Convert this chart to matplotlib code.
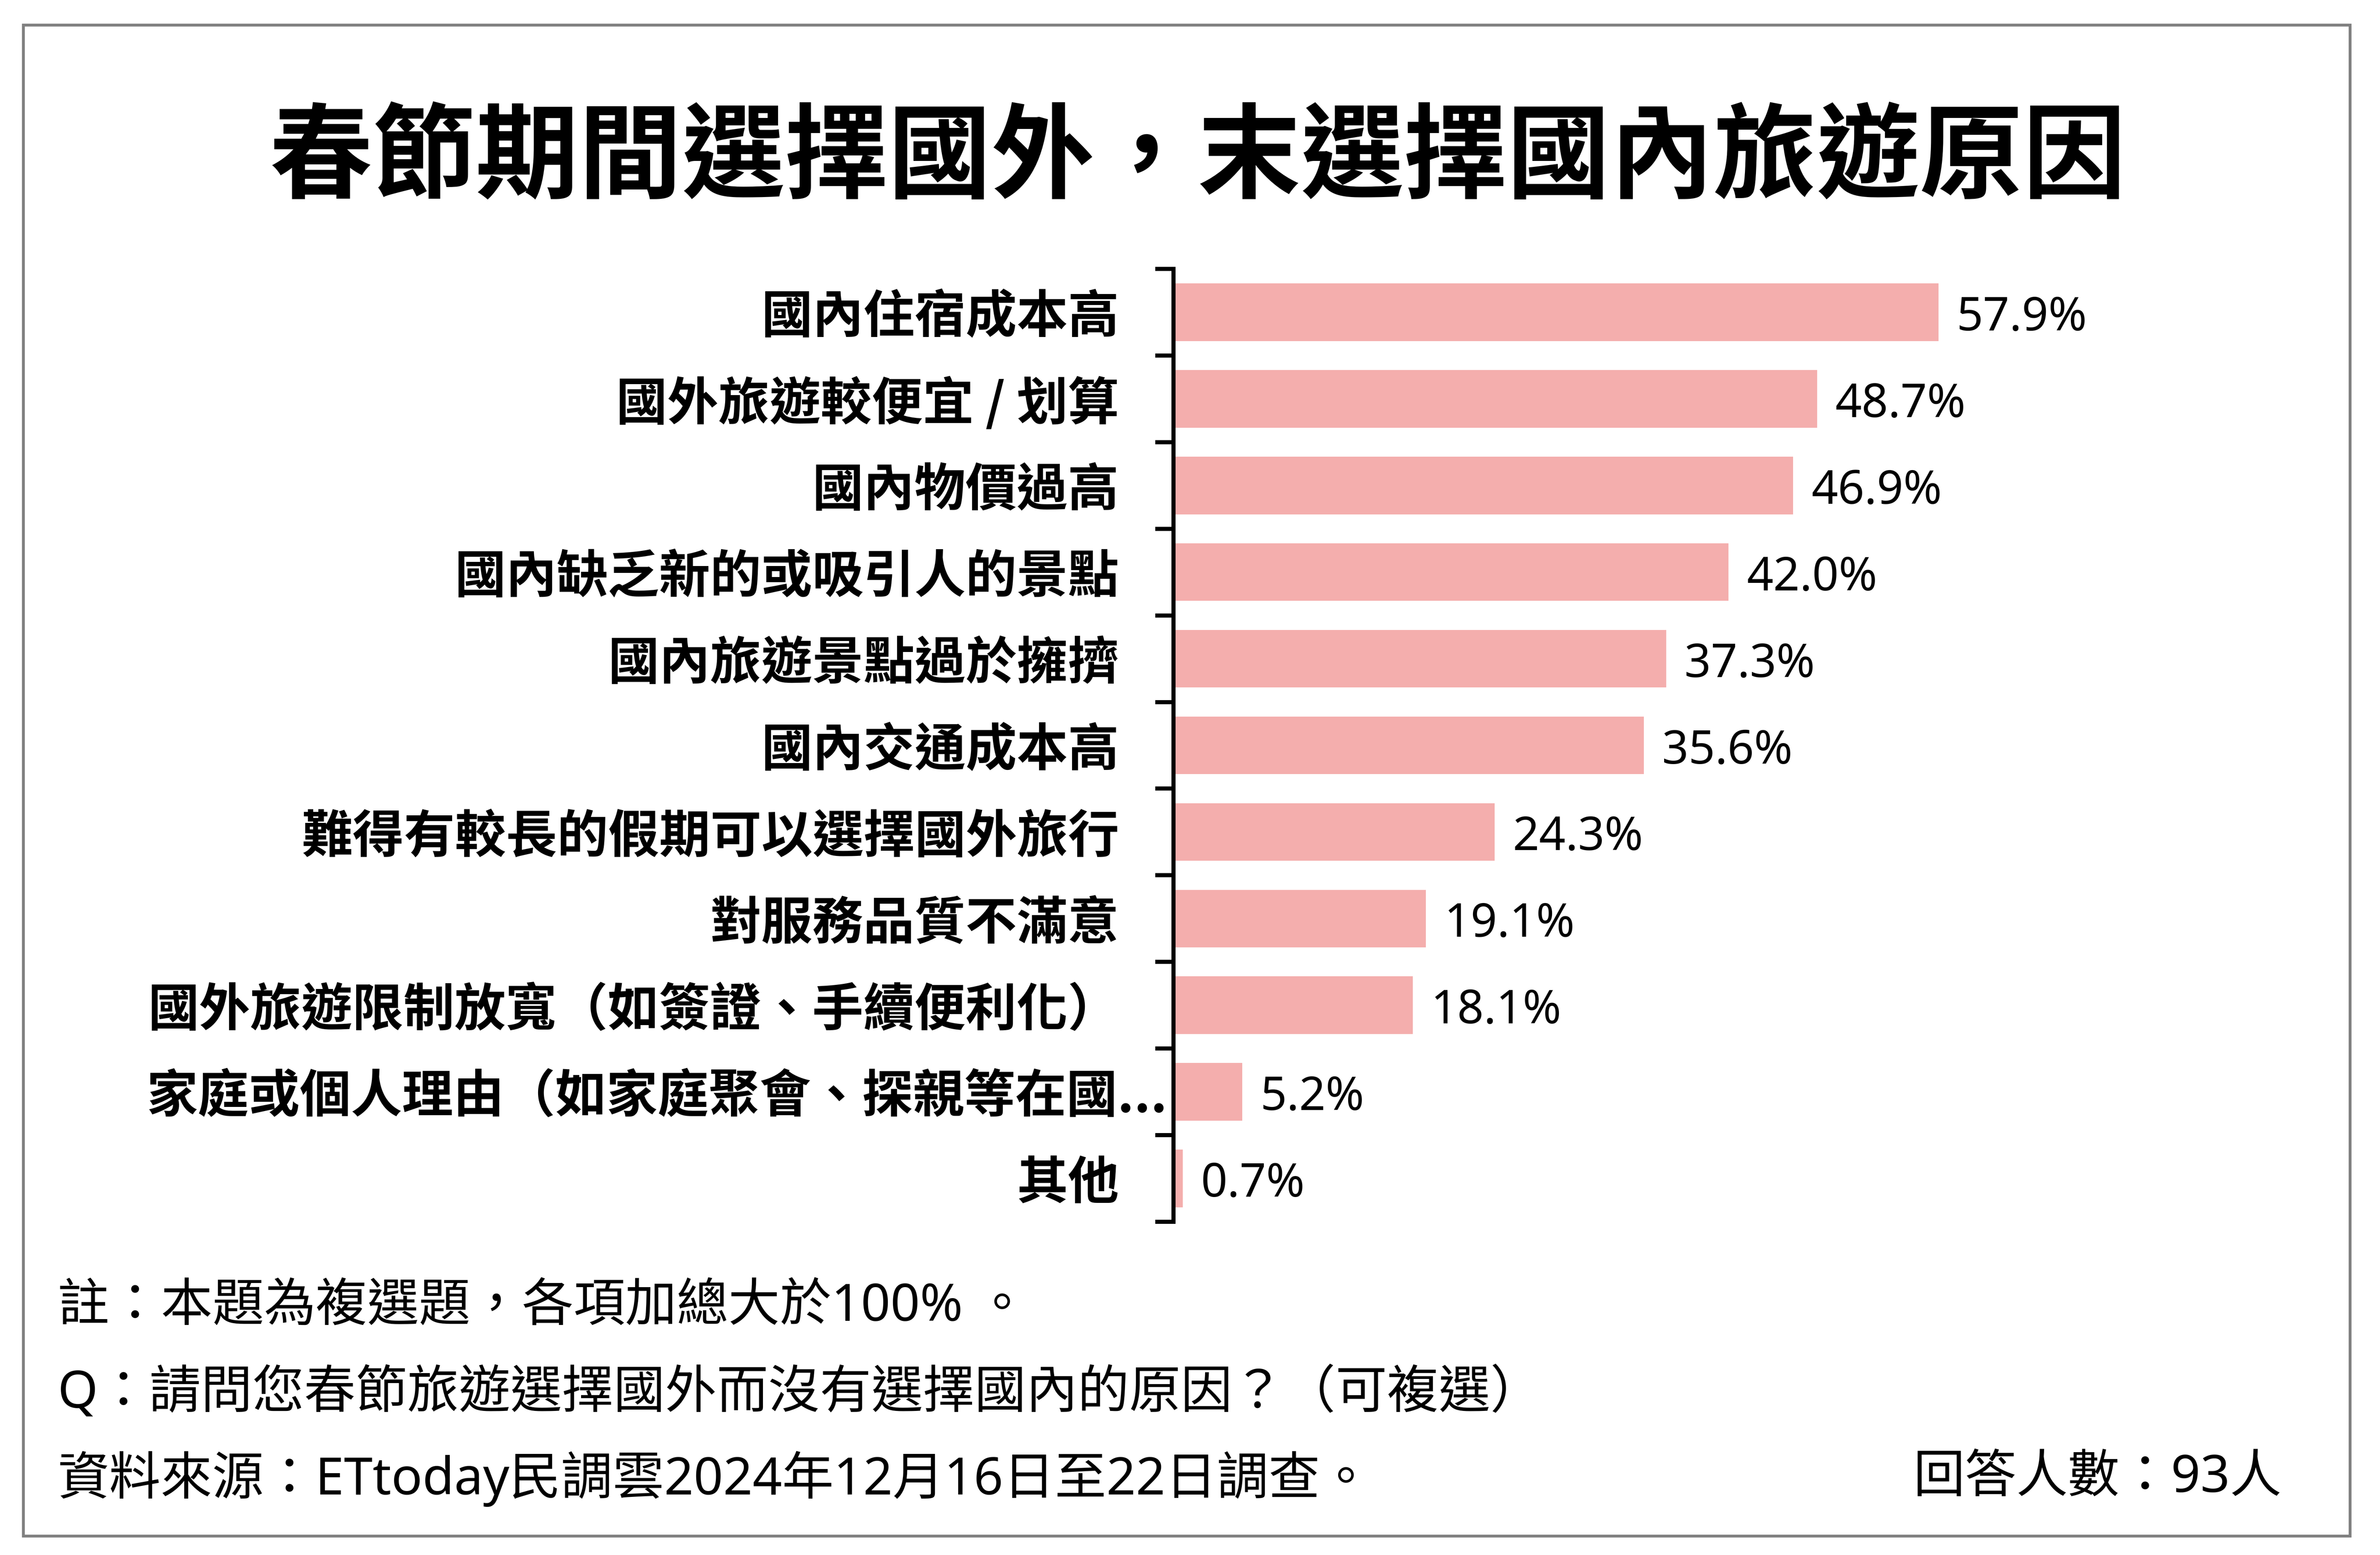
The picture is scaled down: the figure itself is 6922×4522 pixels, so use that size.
import matplotlib
matplotlib.use("Agg")
import matplotlib.pyplot as plt
import numpy as np
from matplotlib.patches import Rectangle

plt.rcParams['font.family'] = ['Noto Sans CJK TC', 'DejaVu Sans']

title = '春節期間選擇國外，末選擇國內旅遊原因'
reasons = ['國內住宿成本高',
           '國外旅遊較便宜 / 划算',
           '國內物價過高',
           '國內缺乏新的或吸引人的景點',
           '國內旅遊景點過於擁擠',
           '國內交通成本高',
           '難得有較長的假期可以選擇國外旅行',
           '對服務品質不滿意',
           '國外旅遊限制放寬（如簽證、手續便利化）',
           '家庭或個人理由（如家庭聚會、探親等在國...',
           '其他']
pct = [57.9, 48.7, 46.9, 42.0, 37.3, 35.6, 24.3, 19.1, 18.1, 5.2, 0.7]
notes = ['註：本題為複選題，各項加總大於100% 。',
         'Q：請問您春節旅遊選擇國外而沒有選擇國內的原因？（可複選）',
         '資料來源：ETtoday民調雲2024年12月16日至22日調查。']
sample = '回答人數：93人'

W, H = 6922, 4522
fig = plt.figure(figsize=(W / 100, H / 100), dpi=100)

# grey frame around the card
fig.patches.append(Rectangle((68 / W, 1 - 4467 / H), (6835 - 68) / W, (4467 - 73) / H,
                             transform=fig.transFigure, fill=False,
                             edgecolor='#808080', linewidth=6))

fig.text(0.5033, 0.8974, title, ha='center', va='center',
         fontsize=216, fontweight='bold', color='black')

ax = fig.add_axes([3413 / W, 1 - 3553 / H, (6600 - 3413) / W, (3553 - 782) / H])
ind = np.arange(len(reasons))
bars = ax.barh(ind, pct, height=0.665, color='#F4AEAD')
vals = ax.bar_label(bars, labels=['%.1f%%' % v for v in pct], padding=41,
                    fontsize=97, family=['Noto Sans', 'Noto Sans CJK TC'], color='black')
for t in vals:
    t.xyann = (38, -13)

ax.set_xlim(0, 82.93)
ax.set_ylim(len(reasons) - 0.5, -0.5)
ax.set_xticks([])
ax.set_yticks(ind)
ax.set_yticklabels(reasons, fontsize=107, fontweight='bold')
ax.set_yticks(np.arange(len(reasons) + 1) - 0.5, minor=True)
ax.tick_params(axis='y', which='major', length=0, pad=114)
ax.tick_params(axis='y', which='minor', length=38, width=8.6, color='black')
# the truncated label runs up to the tick marks in the original
ax.yaxis.get_major_ticks()[9].set_pad(13)
for s in ['top', 'right', 'bottom']:
    ax.spines[s].set_visible(False)
ax.spines['left'].set_linewidth(8.6)
ax.spines['left'].set_color('black')

foot_font = ['Noto Sans', 'Noto Sans CJK TC']
for y, line in zip([0.1593, 0.1036, 0.0490], notes):
    fig.text(0.0243, y, line, ha='left', va='center', fontsize=108,
             family=foot_font, color='black')
fig.text(0.9587, 0.0490, sample, ha='right', va='center', fontsize=108,
         family=foot_font, color='black')

fig.savefig('out.png', dpi=100, facecolor='white')
